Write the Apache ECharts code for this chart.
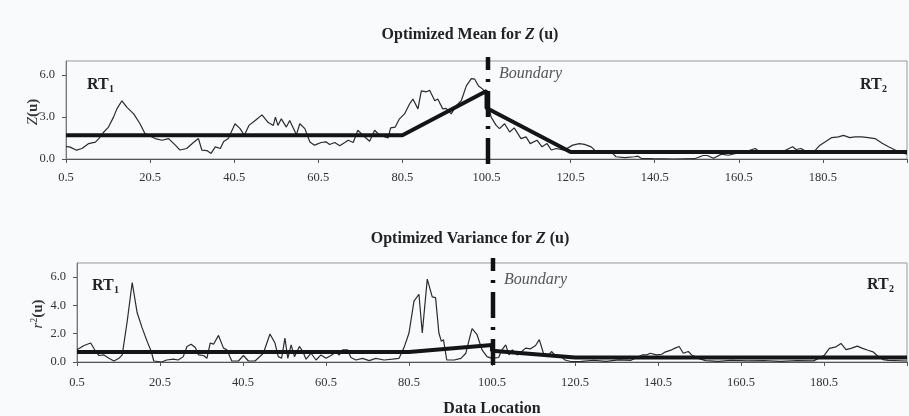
<!DOCTYPE html>
<html>
<head>
<meta charset="utf-8">
<script src="https://cdn.jsdelivr.net/npm/echarts@6/dist/echarts.min.js"></script>
<style>
html,body{margin:0;padding:0;background:#f9fafc;}
#c{width:909px;height:416px;}
</style>
</head>
<body>
<div id="c"></div>
<script>
// ---------- DATA ----------
var xTickLabels = [0.5, 20.5, 40.5, 60.5, 80.5, 100.5, 120.5, 140.5, 160.5, 180.5];
var xTickMarks = [0.5, 20.5, 40.5, 60.5, 80.5, 100.5, 120.5, 140.5, 160.5, 180.5, 200.5];
var meanTicks = [0, 3, 6];
var varTicks = [0, 2, 4, 6];
var boundaryLoc = 100.5;

// observed Z(u) (top, thin line)
var meanLoc = [0.5,1.5,3,4.3,5.9,7.5,8.3,9.5,10.6,11.8,12.6,13.8,15,16.6,18.1,19.3,21.7,23.3,24.9,26.5,27.6,29.2,30.8,32,32.8,34,35,36,37.2,38,39.1,40.7,41.9,42.9,44,45.5,47.1,48.6,49.8,50.3,50.9,51.7,52.9,53.7,55.3,56.1,57.3,58.5,59.6,61.2,62.4,63.2,64.4,65.6,66.8,67.6,68.8,69.9,71.1,72.7,73.9,75.1,77.1,77.7,78.8,79.8,81,82.2,83,84.2,85,86.2,87,88.2,88.9,90.1,90.9,92.1,93.3,94.5,95.7,96.9,97.7,98.6,99.6,100.4,101.6,102.8,103.6,104.8,106,107.1,108.7,109.9,110.9,112.5,113.7,114.9,115.9,117.1,119,121,122.6,123.8,125.4,126.6,129.3,130.5,131.3,133.3,135.7,136.5,137.3,140,145,150,152,153,154.5,156.4,158,159.8,161.4,162.6,164.4,165.2,166.9,168.5,170.5,171.7,173.3,174.1,175.3,176.1,178.6,179.8,181,182.6,184.2,185.4,186.9,188.1,189.7,191.3,192.9,194.5,196.1,197.7,199.3,200.5];
var meanZ = [0.9,0.85,0.63,0.75,1.1,1.2,1.46,1.93,2.28,2.99,3.58,4.16,3.69,3.22,2.52,1.81,1.46,1.34,1.46,0.99,0.64,0.75,1.18,1.46,0.64,0.6,0.4,0.87,0.75,1.25,1.46,2.52,2.17,1.7,2.4,2.75,3.15,2.6,2.4,2.99,2.4,2.87,2.28,2.75,1.74,2.52,2.17,1.22,0.99,1.18,1.22,1.04,1.18,0.95,1.18,1.34,1.18,2.05,1.7,1.27,2.05,1.7,1.5,2.22,2.28,2.87,3.22,3.93,4.28,3.58,4.87,4.8,4.9,4.16,4.28,3.58,3.62,3.22,3.81,4.16,5.22,5.74,5.7,5.22,4.99,4.64,2.99,2.4,2.17,2.52,1.93,2.22,1.46,1.58,1.1,1.34,0.87,1.1,0.64,0.75,0.64,0.99,1.1,1.04,0.87,0.52,0.52,0.4,0.16,0.1,0.16,0.2,0.05,0.02,0,0.02,0.25,0.25,0.05,0.35,0.27,0.4,0.4,0.57,0.75,0.57,0.5,0.4,0.5,0.64,0.87,0.68,0.75,0.6,0.6,0.99,1.22,1.53,1.58,1.69,1.53,1.58,1.58,1.53,1.46,1.15,0.87,0.64,0.45,0.35];

// optimized mean (top, thick line)
var optMeanLoc = [0.5, 80.5, 100.5, 100.5, 120.5, 200.5];
var optMeanVal = [1.7, 1.7, 4.85, 3.65, 0.5, 0.5];

// observed r^2(u) (bottom, thin line)
var varLoc = [0.5,2.2,3.8,5,5.8,7,8.2,9.4,10.6,11.4,12.6,13.8,15,16.2,17.4,18.4,19,20.9,22.1,23.7,24.9,26.1,27,28,29,29.8,31,31.8,32.6,33.4,34.6,35.8,36.6,37.8,39.4,40.6,41.8,43.4,45.4,47,48.2,49,49.8,50.6,51.3,52.1,52.9,54.1,54.9,55.7,56.9,58.1,59.3,60.5,61.7,62.9,63.7,64.5,65.7,66.5,67.7,69.3,70.9,72.5,74.5,76.5,78.1,79.3,80.5,81.7,82.9,83.7,84.9,86.1,86.9,87.7,88.3,88.8,89.6,91.4,93,94.2,95,95.7,96.9,98.1,99.3,100.5,102.1,102.9,103.8,104.6,105.4,106.6,107.4,108.6,109.8,111,111.9,112.9,114.1,114.9,115.7,116.9,118.1,119.7,122,125,128,131,134,136.7,137.8,138.6,140.2,141.4,142.2,143.8,144.6,145.6,146.6,147.8,148.6,149.4,150.2,152,155,158,162,166,170,174,178,180.6,181.8,183.4,184.6,185.8,187,188.5,189.8,191.1,192.3,193.5,194.7,196,200.5];
var varR = [0.86,1.17,1.34,0.74,0.46,0.5,0.26,0.07,0.26,0.5,2.88,5.62,3.48,2.41,1.46,0.74,0.07,0,0.14,0.2,0.14,0.38,1.1,1.26,1.02,0.5,0.46,0.26,1.34,1.26,1.88,0.98,0.86,0.07,0.07,0.46,0.07,0.07,0.62,1.98,1.34,0.38,0.26,1.69,0.26,1.21,0.38,1.1,0.74,0.2,0.62,0.14,0.5,0.26,0.46,0.7,0.5,0.86,0.86,0.32,0.14,0.26,0.1,0.26,0.14,0.2,0.26,1.02,2.05,4.31,4.79,2.05,5.86,4.6,4.55,2.05,1.46,1.58,0.14,0.14,0.26,0.62,1.58,2.36,1.93,0.86,0.38,0.26,0.32,0.86,1.21,0.5,0.86,0.5,0.67,0.98,0.93,1.17,1.58,0.62,0.5,0.74,0.46,0.46,0.14,0.02,0.05,0.12,0.05,0.15,0.12,0.5,0.5,0.62,0.5,0.55,0.7,0.86,0.98,1.1,0.62,0.74,0.5,0.38,0.26,0.1,0.05,0.12,0.08,0.1,0.05,0.1,0.08,0.48,0.96,1.07,1.31,0.88,0.96,1.12,0.96,0.83,0.72,0.41,0.17,0.12,0.07];

// optimized variance (bottom, thick line)
var optVarLoc = [0.5, 80.5, 100.5, 100.5, 120.5, 200.5];
var optVarVal = [0.7, 0.7, 1.2, 0.8, 0.32, 0.32];

// ---------- CHART ----------
function pairs(xs, ys){ var o=[]; for(var i=0;i<xs.length;i++) o.push([xs[i], ys[i]]); return o; }
var SERIF = "'Liberation Serif','Times New Roman',serif";
var TXT = '#333';

function xAxisCfg(gi, margin){
  return {
    type:'value', gridIndex:gi, min:0.5, max:200.5,
    axisLine:{show:true, onZero:false, lineStyle:{color:'#555', width:1}},
    axisTick:{show:true, length:4, lineStyle:{color:'#555'}, customValues:xTickMarks},
    axisLabel:{show:true, customValues:xTickLabels, margin:margin, fontFamily:SERIF, fontSize:12.5, color:TXT,
      formatter:function(v){ return v.toFixed(1); }},
    splitLine:{show:false}
  };
}
function yAxisCfg(gi, ticks){
  return {
    type:'value', gridIndex:gi, min:0, max:7,
    axisLine:{show:true, lineStyle:{color:'#777', width:1}},
    axisTick:{show:true, length:4, lineStyle:{color:'#555'}, customValues:ticks},
    axisLabel:{show:true, customValues:ticks, margin:11, fontFamily:SERIF, fontSize:12.5, color:TXT,
      formatter:function(v){ return v.toFixed(1); }},
    splitLine:{show:false}
  };
}

var chart = echarts.init(document.getElementById('c'), null, {renderer:'canvas'});
var option = {
  backgroundColor:'#f9fafc',
  animation:false,
  grid:[
    {left:66, top:61, width:841, height:98, show:true, borderColor:'#999', borderWidth:1, backgroundColor:'transparent'},
    {left:77, top:263, width:830, height:99, show:true, borderColor:'#999', borderWidth:1, backgroundColor:'transparent'}
  ],
  xAxis:[xAxisCfg(0, 12), xAxisCfg(1, 14)],
  yAxis:[yAxisCfg(0, meanTicks), yAxisCfg(1, varTicks)],
  series:[
    {type:'line', xAxisIndex:0, yAxisIndex:0, data:pairs(meanLoc, meanZ), showSymbol:false, symbol:'none',
      lineStyle:{color:'#2b2b2b', width:1.2}, z:2},
    {type:'line', xAxisIndex:0, yAxisIndex:0, data:pairs(optMeanLoc, optMeanVal), showSymbol:false, symbol:'none',
      lineStyle:{color:'#151515', width:4}, z:3},
    {type:'line', xAxisIndex:1, yAxisIndex:1, data:pairs(varLoc, varR), showSymbol:false, symbol:'none',
      lineStyle:{color:'#2b2b2b', width:1.2}, z:2},
    {type:'line', xAxisIndex:1, yAxisIndex:1, data:pairs(optVarLoc, optVarVal), showSymbol:false, symbol:'none',
      lineStyle:{color:'#151515', width:4}, z:3}
  ]
};
chart.setOption(option);

function txt(x, y, text, size, opts){
  opts = opts || {};
  return {type:'text', x:x, y:y, rotation:opts.rotation||0, z:10,
    style:{text:text, fontFamily:SERIF, fontSize:size, fontWeight:opts.weight||'bold', fontStyle:opts.style||'normal',
      fill:opts.color||'#222', align:opts.align||'left', verticalAlign:'middle', rich:opts.rich}};
}
var richTitle = {
  b:{fontFamily:SERIF, fontSize:16, fontWeight:'bold', fill:'#222'},
  bi:{fontFamily:SERIF, fontSize:16, fontWeight:'bold', fontStyle:'italic', fill:'#222'}
};
var richYName = {
  i:{fontFamily:SERIF, fontSize:15, fontStyle:'italic', fill:'#333'},
  n:{fontFamily:SERIF, fontSize:15, fill:'#333'},
  b:{fontFamily:SERIF, fontSize:15, fontWeight:'bold', fill:'#333'},
  s:{fontFamily:SERIF, fontSize:10, fill:'#333', verticalAlign:'top', padding:[0,0,8,0]}
};

var p0a = chart.convertToPixel({xAxisIndex:0, yAxisIndex:0}, [boundaryLoc, 7]);
var p0b = chart.convertToPixel({xAxisIndex:0, yAxisIndex:0}, [boundaryLoc, 0]);
var p1a = chart.convertToPixel({xAxisIndex:1, yAxisIndex:1}, [boundaryLoc, 7]);
var p1b = chart.convertToPixel({xAxisIndex:1, yAxisIndex:1}, [boundaryLoc, 0]);
var dash = {stroke:'#111', lineWidth:4.5, lineDash:[26,9,3,9], lineDashOffset:13, lineCap:'butt'};

chart.setOption({graphic:[
  {type:'line', z:5, shape:{x1:p0a[0]+1.5, y1:p0a[1]-4, x2:p0b[0]+1.5, y2:p0b[1]+8}, style:dash},
  {type:'line', z:5, shape:{x1:p1a[0]+1, y1:p1a[1]-5, x2:p1b[0]+1, y2:p1b[1]+7}, style:dash},
  txt(470, 35, '{b|Optimized Mean for }{bi|Z}{b| (u)}', 16, {align:'center', rich:richTitle}),
  txt(470, 239, '{b|Optimized Variance for }{bi|Z}{b| (u)}', 16, {align:'center', rich:richTitle}),
  txt(492, 409, 'Data Location', 16, {align:'center'}),
  txt(87, 85, 'RT', 16),
  txt(109, 89, '1', 10),
  txt(860, 85, 'RT', 16),
  txt(882, 89, '2', 10),
  txt(92, 286, 'RT', 16),
  txt(114, 290, '1', 10),
  txt(867, 285, 'RT', 16),
  txt(889, 289, '2', 10),
  txt(499, 74, 'Boundary', 16, {weight:'normal', style:'italic', color:'#555'}),
  txt(504, 280, 'Boundary', 16, {weight:'normal', style:'italic', color:'#555'}),
  txt(33, 112, '{i|Z}{b|(u)}', 15, {align:'center', rotation:Math.PI/2, rich:richYName}),
  txt(38, 314, '{i|r}{s|2}{b|(u)}', 15, {align:'center', rotation:Math.PI/2, rich:richYName})
]});
</script>
</body>
</html>
